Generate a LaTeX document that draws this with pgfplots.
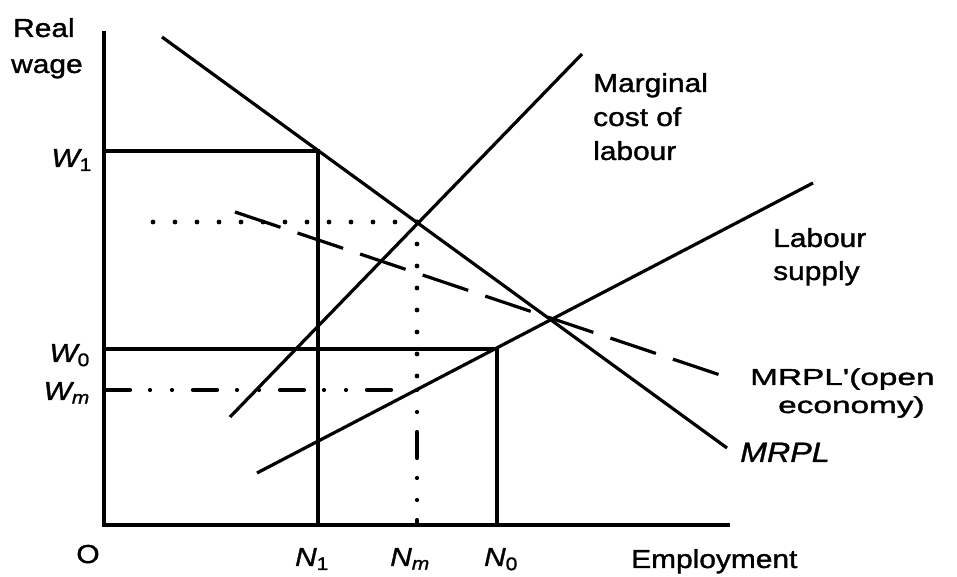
\documentclass[border=0pt]{standalone}
\usepackage{fontspec}
\setmainfont{Liberation Sans}[FakeStretch=1.15, FakeBold=1.3]
\newfontfamily\hand{Liberation Sans}[FakeStretch=1.45, FakeBold=1.6]
\usepackage{pgfplots}
\pgfplotsset{compat=1.18}
\tikzset{
  lbl/.style={font=\fontsize{26}{30}\selectfont, inner sep=0pt},
  hw/.style={font=\hand\fontsize{23}{28}\selectfont, inner sep=0pt},
  solidl/.style={black, line width=3.2pt},
  dotl/.style={black, line width=4.8pt, line cap=round, dash pattern=on 0pt off 22pt},
}
\begin{document}
\begin{tikzpicture}[x=1pt,y=1pt]
\useasboundingbox (-104,-52) rectangle (853,525);
\begin{axis}[
  at={(0pt,0pt)}, anchor=south west,
  x=1pt, y=1pt,
  xmin=0, xmax=624, ymin=0, ymax=492,
  enlargelimits=false,
  axis lines=left,
  axis line style={-, line width=3.2pt, line cap=rect},
  xtick=\empty, ytick=\empty,
  clip=false,
]
% curves
\addplot[solidl] coordinates {(58,488) (623,77)};   % MRPL
\addplot[solidl] coordinates {(126,108) (478,471)}; % marginal cost of labour
\addplot[solidl] coordinates {(153,52) (709,342)};  % labour supply
\addplot[solidl, dash pattern=on 48pt off 18pt] coordinates {(131,313) (631,145)}; % MRPL'
% guide lines
\addplot[solidl] coordinates {(0,374) (214,374) (214,0)};
\addplot[solidl] coordinates {(0,176) (393,176) (393,0)};
\addplot[dotl] coordinates {(313,303) (46,303)};
\addplot[dotl] coordinates {(313,303) (313,135)};
\addplot[black, line width=4.2pt, line cap=round, dash pattern=on 0pt off 22pt on 0pt off 20pt on 26pt off 20pt] coordinates {(313,135) (313,0)};
\addplot[black, line width=4.2pt, line cap=round, dash pattern=on 24pt off 20pt on 0pt off 22pt on 0pt off 21pt] coordinates {(2,135) (296,135)};
% labels
\node[lbl, anchor=base west] at (axis cs:-91,488) {Real};
\node[lbl, anchor=base west] at (axis cs:-93,452) {wage};
\node[lbl, anchor=base east] at (axis cs:-12,358) {\itshape W\textsubscript{\upshape 1}};
\node[lbl, anchor=base east] at (axis cs:-14,163) {\itshape W\textsubscript{\upshape 0}};
\node[lbl, anchor=base east] at (axis cs:-14,125) {\itshape W\textsubscript{m}};
\node[lbl, anchor=base] at (axis cs:-16,-38) {O};
\node[lbl, anchor=base] at (axis cs:208,-41) {\itshape N\textsubscript{\upshape 1}};
\node[lbl, anchor=base] at (axis cs:306,-41) {\itshape N\textsubscript{m}};
\node[lbl, anchor=base] at (axis cs:397,-41) {\itshape N\textsubscript{\upshape 0}};
\node[lbl, anchor=base west] at (axis cs:527,-43) {Employment};
\node[lbl, anchor=base west] at (axis cs:489,433) {Marginal};
\node[lbl, anchor=base west] at (axis cs:489,399) {cost of};
\node[lbl, anchor=base west] at (axis cs:489,365) {labour};
\node[lbl, anchor=base west] at (axis cs:669,278) {Labour};
\node[lbl, anchor=base west] at (axis cs:669,245) {supply};
\node[hw, anchor=base west] at (axis cs:646,140) {MRPL'(open};
\node[hw, anchor=base west] at (axis cs:674,112) {economy)};
\node[lbl, anchor=base west, font=\fontsize{28}{32}\selectfont] at (axis cs:636,63) {\itshape MRPL};
\end{axis}
\end{tikzpicture}
\end{document}
